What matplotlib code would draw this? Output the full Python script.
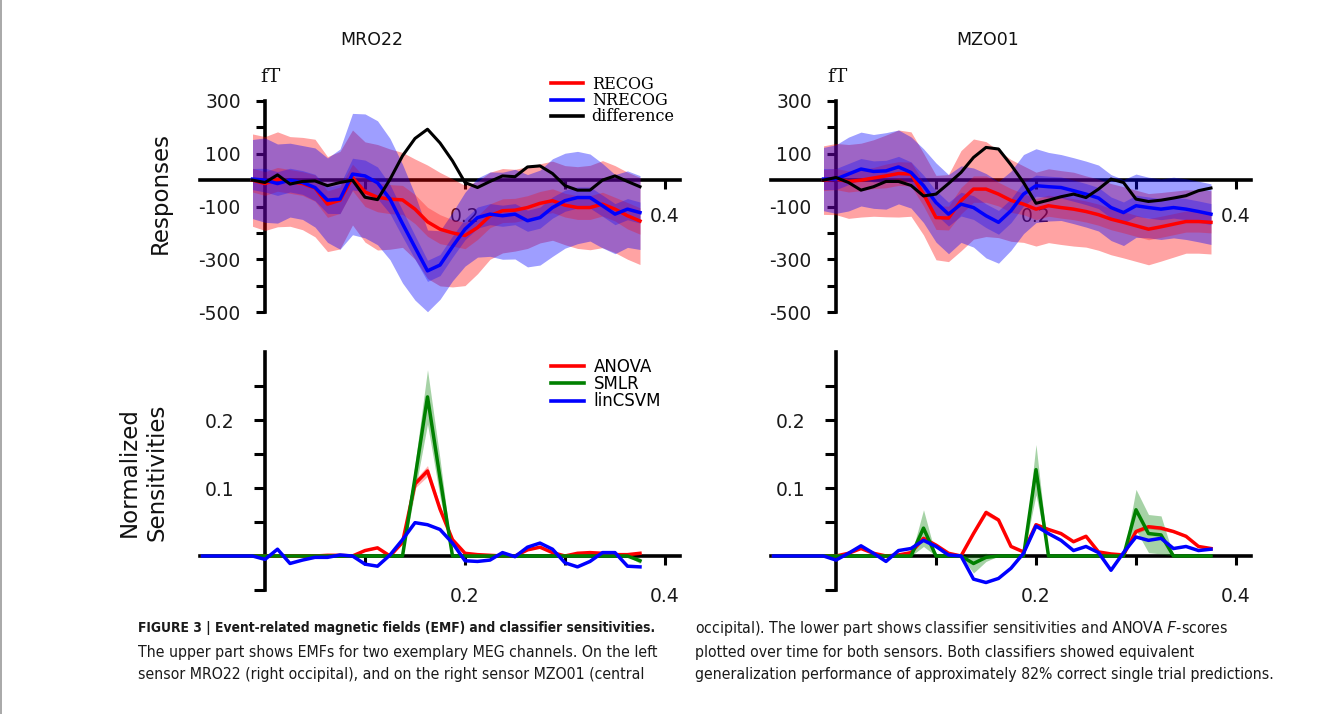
import numpy as np
import matplotlib
matplotlib.use("Agg")
import matplotlib.pyplot as plt
from matplotlib import font_manager
from matplotlib.ticker import FixedLocator, FixedFormatter
from matplotlib.lines import Line2D

# ---------------- data ----------------
t_top = [-0.0125, 0.0, 0.0125, 0.025, 0.0375, 0.05, 0.0625, 0.075, 0.0875, 0.1,
         0.1125, 0.125, 0.1375, 0.15, 0.1625, 0.175, 0.1875, 0.2, 0.2125, 0.225,
         0.2375, 0.25, 0.2625, 0.275, 0.2875, 0.3, 0.3125, 0.325, 0.3375, 0.35,
         0.3625, 0.375]
t_bot = [-0.0625, -0.05, -0.0375, -0.025] + t_top

# MRO22 responses (fT)
mro_recog = [0, -13, 3, -5, -13, -30, -91, -76, 10, -45, -65, -72, -75, -110, -158, -186,
             -200, -210, -180, -135, -116, -114, -104, -88, -78, -95, -104, -104, -91, -110, -135, -155]
mro_recog_sd = [175, 178, 180, 170, 175, 185, 180, 185, 180, 190, 200, 190, 180, 190, 215, 215,
                205, 190, 175, 165, 160, 155, 155, 150, 150, 150, 155, 160, 165, 165, 165, 165]
mro_recog_se = [45, 45, 45, 45, 45, 50, 50, 50, 50, 55, 55, 55, 55, 55, 55, 55,
                50, 50, 45, 45, 45, 45, 45, 45, 45, 45, 45, 45, 45, 45, 50, 50]
mro_nrecog = [4, 0, -13, 0, -9, -28, -76, -72, 23, 16, -10, -72, -165, -255, -344, -322,
              -252, -186, -142, -129, -135, -129, -154, -142, -104, -78, -66, -66, -97, -129, -110, -123]
mro_nrecog_sd = [150, 160, 150, 140, 140, 150, 160, 190, 230, 235, 235, 230, 225, 200, 155, 130,
                 130, 140, 150, 160, 165, 170, 175, 180, 185, 180, 175, 165, 160, 150, 145, 140]
mro_nrecog_se = [40, 45, 45, 45, 45, 50, 50, 55, 60, 60, 60, 55, 50, 45, 40, 40,
                 40, 40, 40, 40, 40, 40, 40, 40, 40, 40, 40, 40, 40, 40, 40, 40]
mro_diff = [0, -9, 20, -15, -5, -3, -21, -9, 0, -65, -74, 3, 92, 158, 193, 141,
            73, -9, -28, -5, 16, 13, 50, 54, 25, -21, -38, -38, 0, 16, -5, -25]

# MZO01 responses (fT)
mzo_recog = [0, 4, -5, 0, 8, 16, 25, 23, -53, -142, -144, -78, -34, -34, -53, -77,
             -91, -110, -97, -104, -110, -119, -131, -148, -160, -173, -186, -177, -167, -157, -157, -160]
mzo_recog_sd = [130, 135, 140, 140, 145, 155, 165, 160, 155, 160, 165, 190, 190, 180, 165, 155,
                145, 140, 140, 140, 140, 135, 135, 135, 135, 135, 135, 130, 125, 120, 120, 120]
mzo_recog_se = [40, 40, 40, 40, 40, 45, 45, 45, 45, 45, 45, 50, 50, 50, 45, 45,
                40, 40, 40, 40, 40, 40, 40, 40, 40, 40, 40, 40, 40, 40, 40, 40]
mzo_nrecog = [4, 4, 23, 42, 33, 35, 50, 29, -21, -85, -129, -91, -104, -135, -160, -116,
              -53, -21, -25, -28, -40, -53, -68, -104, -123, -97, -104, -110, -104, -110, -119, -129]
mzo_nrecog_sd = [120, 130, 140, 140, 140, 145, 140, 135, 140, 150, 150, 145, 150, 160, 155, 150,
                 150, 140, 130, 125, 125, 125, 125, 125, 125, 120, 115, 115, 115, 115, 115, 115]
mzo_nrecog_se = [40, 40, 40, 40, 40, 40, 40, 40, 40, 45, 45, 45, 45, 45, 45, 45,
                 45, 40, 40, 40, 40, 40, 40, 40, 40, 40, 40, 40, 40, 40, 40, 40]
mzo_diff = [0, 10, -9, -38, -25, -5, -5, -20, -60, -53, -13, 29, 86, 124, 118, 58,
            -9, -88, -76, -63, -53, -66, -34, 4, -9, -72, -81, -76, -68, -59, -40, -30]

# MRO22 normalized sensitivities
mro_anova = [0, 0, 0, 0, 0, 0, 0, 0, 0, 0, 0.001, 0.001, 0, 0.008, 0.012, 0, 0.02, 0.106,
             0.125, 0.069, 0.024, 0.004, 0.002, 0.001, 0, 0, 0.009, 0.013, 0.005, 0, 0.004,
             0.005, 0.004, 0.002, 0.002, 0.004]
mro_anova_sd = [0, 0, 0, 0, 0, 0, 0, 0, 0, 0, 0, 0, 0, 0.001, 0.001, 0, 0.002, 0.006,
                0.008, 0.006, 0.002, 0, 0, 0, 0, 0, 0.001, 0.001, 0, 0, 0, 0, 0, 0, 0, 0]
mro_smlr = [0, 0, 0, 0, 0, 0, 0, 0, 0, 0, 0, 0, 0, 0, 0, 0, 0, 0.115, 0.234, 0.115,
            0, 0, 0, 0, 0, 0, 0, 0, 0, 0, 0, 0, 0, 0, 0, -0.007]
mro_smlr_sd = [0, 0, 0, 0, 0, 0, 0, 0, 0, 0, 0, 0, 0, 0, 0, 0, 0, 0.02, 0.04, 0.028,
               0, 0, 0, 0, 0, 0, 0, 0, 0, 0, 0, 0, 0, 0, 0, 0.004]
mro_svm = [0, 0, 0, 0, 0, -0.005, 0.010, -0.011, -0.006, -0.002, -0.002, 0.0015, 0, -0.012,
           -0.015, 0.0015, 0.024, 0.049, 0.046, 0.039, 0.019, -0.007, -0.008, -0.006, 0.005,
           -0.001, 0.013, 0.019, 0.010, -0.010, -0.016, -0.008, 0.005, 0.005, -0.015, -0.016]

# MZO01 normalized sensitivities
mzo_anova = [0, 0, 0, 0, 0, 0, 0.004, 0.011, 0.004, 0, 0.0015, 0.005, 0.026, 0.016, 0.004,
             0, 0.033, 0.064, 0.053, 0.014, 0.006, 0.046, 0.039, 0.033, 0.021, 0.029, 0.006,
             0.003, 0.0015, 0.036, 0.043, 0.041, 0.036, 0.029, 0.014, 0.011]
mzo_anova_sd = [0, 0, 0, 0, 0, 0, 0, 0.001, 0, 0, 0, 0, 0.002, 0.001, 0, 0, 0.002, 0.004,
                0.003, 0.001, 0, 0.003, 0.002, 0.002, 0.001, 0.002, 0, 0, 0, 0.003, 0.003,
                0.003, 0.002, 0.002, 0.001, 0.001]
mzo_smlr = [0, 0, 0, 0, 0, 0, 0, 0, 0, 0, 0, 0, 0.041, 0, 0, 0, -0.011, -0.002, 0, 0, 0,
            0.127, 0, 0, 0, 0, 0, 0, 0, 0.068, 0.033, 0.031, 0, 0, 0, 0]
mzo_smlr_sd = [0, 0, 0, 0, 0, 0, 0, 0, 0, 0, 0, 0, 0.027, 0, 0, 0, 0.014, 0.006, 0, 0, 0,
               0.037, 0, 0, 0, 0, 0, 0, 0, 0.03, 0.028, 0.028, 0, 0, 0, 0]
mzo_svm = [0, 0, 0, 0, 0, -0.006, 0.004, 0.015, 0.004, -0.008, 0.008, 0.011, 0.023, 0.014,
           0.0015, 0, -0.034, -0.039, -0.033, -0.018, 0.004, 0.044, 0.033, 0.023, 0.008,
           0.014, 0.005, -0.021, 0.005, 0.028, 0.023, 0.026, 0.011, 0.014, 0.008, 0.010]

sensor_names = ["MRO22", "MZO01"]
resp_labels = ["RECOG", "NRECOG", "difference"]
sens_labels = ["ANOVA", "SMLR", "linCSVM"]
resp_yticks = [-500, -400, -300, -200, -100, 0, 100, 200, 300]
resp_yticklabels = ["-500", "", "-300", "", "-100", "", "100", "", "300"]
sens_yticks = [-0.05, 0.05, 0.1, 0.15, 0.2, 0.25]
sens_yticklabels = ["", "", "0.1", "", "0.2", ""]
xticks = [0.1, 0.2, 0.3, 0.4]
xticklabels = ["", "0.2", "", "0.4"]

caption_left = [
    ("FIGURE 3 | Event-related magnetic fields (EMF) and classifier sensitivities.", "bold"),
    ("The upper part shows EMFs for two exemplary MEG channels. On the left", "normal"),
    ("sensor MRO22 (right occipital), and on the right sensor MZO01 (central", "normal"),
]
caption_right = [
    ("occipital). The lower part shows classifier sensitivities and ANOVA $\\mathit{F}$-scores", "normal"),
    ("plotted over time for both sensors. Both classifiers showed equivalent", "normal"),
    ("generalization performance of approximately 82% correct single trial predictions.", "normal"),
]

# ---------------- figure ----------------
W, H = 1344, 714
fig = plt.figure(figsize=(W / 100, H / 100), dpi=100)
fig.patch.set_facecolor("white")

def ax_px(x0, x1, y_top, y_bot):
    return fig.add_axes([x0 / W, 1 - y_bot / H, (x1 - x0) / W, (y_bot - y_top) / H])

ax_tl = ax_px(200, 680, 101, 312)
ax_tr = ax_px(771, 1251, 101, 312)
ax_bl = ax_px(200, 680, 352, 590)
ax_br = ax_px(771, 1251, 352, 590)

TICK_COLOR = "#1a1a1a"

def style(ax, ylim, yticks, yticklabels, xpad, ypad, ylen, bounds):
    ax.set_xlim(-0.065, 0.415)
    ax.set_ylim(*ylim)
    ax.patch.set_alpha(0)
    for s in ("top", "right"):
        ax.spines[s].set_visible(False)
    ax.spines["bottom"].set_position(("data", 0))
    ax.spines["left"].set_position(("data", 0))
    ax.spines["left"].set_bounds(*bounds)
    for s in ("bottom", "left"):
        ax.spines[s].set_linewidth(2.6)
        ax.spines[s].set_color("black")
    ax.xaxis.set_major_locator(FixedLocator(xticks))
    ax.xaxis.set_major_formatter(FixedFormatter(xticklabels))
    ax.yaxis.set_major_locator(FixedLocator(yticks))
    ax.yaxis.set_major_formatter(FixedFormatter(yticklabels))
    ax.tick_params(axis="x", direction="out", length=6.5, width=2.2, pad=xpad,
                   labelsize=13.5, labelcolor=TICK_COLOR)
    ax.tick_params(axis="y", direction="out", length=ylen, width=2.2, pad=ypad,
                   labelsize=13.5, labelcolor=TICK_COLOR)

def draw_resp(ax, rec, rec_sd, rec_se, nrec, nrec_sd, nrec_se, diff):
    t = np.asarray(t_top)
    rec, rec_sd, rec_se = map(np.asarray, (rec, rec_sd, rec_se))
    nrec, nrec_sd, nrec_se = map(np.asarray, (nrec, nrec_sd, nrec_se))
    ax.fill_between(t, rec - rec_sd, rec + rec_sd, color="red", alpha=0.36, lw=0, zorder=3)
    ax.fill_between(t, nrec - nrec_sd, nrec + nrec_sd, color="blue", alpha=0.38, lw=0, zorder=3)
    ax.fill_between(t, rec - rec_se, rec + rec_se, color="red", alpha=0.28, lw=0, zorder=3)
    ax.fill_between(t, nrec - nrec_se, nrec + nrec_se, color="blue", alpha=0.3, lw=0, zorder=3)
    ax.plot(t, rec, color="red", lw=2.5, zorder=5)
    ax.plot(t, nrec, color="blue", lw=2.5, zorder=5)
    ax.plot(t, diff, color="black", lw=2.2, zorder=6)

def draw_sens(ax, anova, anova_sd, smlr, smlr_sd, svm):
    t = np.asarray(t_bot)
    anova, anova_sd, smlr, smlr_sd = map(np.asarray, (anova, anova_sd, smlr, smlr_sd))
    ax.fill_between(t, anova - anova_sd, anova + anova_sd, color="red", alpha=0.3, lw=0, zorder=3)
    ax.fill_between(t, smlr - smlr_sd, smlr + smlr_sd, color="green", alpha=0.35, lw=0, zorder=3)
    ax.plot(t, anova, color="red", lw=2.5, zorder=5)
    ax.plot(t, smlr, color="green", lw=2.5, zorder=5)
    ax.plot(t, svm, color="blue", lw=2.5, zorder=6)

for ax in (ax_tl, ax_tr):
    style(ax, (-500, 300), resp_yticks, resp_yticklabels, xpad=13, ypad=11, ylen=6.5,
          bounds=(-500, 300))
for ax in (ax_bl, ax_br):
    style(ax, (-0.05, 0.3), sens_yticks, sens_yticklabels, xpad=16, ypad=14, ylen=8,
          bounds=(-0.05, 0.3))

draw_resp(ax_tl, mro_recog, mro_recog_sd, mro_recog_se, mro_nrecog, mro_nrecog_sd,
          mro_nrecog_se, mro_diff)
draw_resp(ax_tr, mzo_recog, mzo_recog_sd, mzo_recog_se, mzo_nrecog, mzo_nrecog_sd,
          mzo_nrecog_se, mzo_diff)
draw_sens(ax_bl, mro_anova, mro_anova_sd, mro_smlr, mro_smlr_sd, mro_svm)
draw_sens(ax_br, mzo_anova, mzo_anova_sd, mzo_smlr, mzo_smlr_sd, mzo_svm)

# legends
resp_handles = [Line2D([], [], color=c, lw=2.6) for c in ("red", "blue", "black")]
ax_tl.legend(resp_handles, resp_labels, loc="upper left",
             bbox_to_anchor=(551 / W, 1 - 76 / H), bbox_transform=fig.transFigure,
             frameon=False, borderpad=0, borderaxespad=0, handlelength=2.0,
             handletextpad=0.55, labelspacing=-0.05,
             prop={"family": "DejaVu Serif", "size": 11.5})
sens_handles = [Line2D([], [], color=c, lw=2.6) for c in ("red", "green", "blue")]
ax_bl.legend(sens_handles, sens_labels, loc="upper left",
             bbox_to_anchor=(551 / W, 1 - 358 / H), bbox_transform=fig.transFigure,
             frameon=False, borderpad=0, borderaxespad=0, handlelength=2.0,
             handletextpad=0.55, labelspacing=-0.05,
             prop={"family": "DejaVu Sans", "size": 12})

# titles and labels
for x, name in zip((372, 988), sensor_names):
    fig.text(x / W, 1 - 40 / H, name, ha="center", va="center", fontsize=12.5, color="#111")
for x in (270, 837):
    fig.text(x / W, 1 - 77 / H, "fT", ha="center", va="center", fontsize=14,
             family="DejaVu Serif", color="#111")
fig.text(160 / W, 1 - 193 / H, "Responses", rotation=90, ha="center", va="center",
         fontsize=16.5, color="#111")
fig.text(143 / W, 1 - 472 / H, "Normalized\nSensitivities", rotation=90, ha="center",
         va="center", fontsize=16.5, linespacing=1.25, multialignment="center", color="#111")

# frame line
fig.add_artist(Line2D([1.0 / W, 1.0 / W], [0, 1], transform=fig.transFigure,
                      color="#9a9a9a", lw=1.2))

# ---------------- caption ----------------
names = {f.name for f in font_manager.fontManager.ttflist}
if "Liberation Sans Narrow" in names:
    cap_family = "Liberation Sans Narrow"
    cap_stretch = "normal"
else:
    cap_family = "DejaVu Sans"
    cap_stretch = "condensed"
plt.rcParams["mathtext.fontset"] = "custom"
plt.rcParams["mathtext.it"] = cap_family + ":italic"
plt.rcParams["mathtext.rm"] = cap_family

renderer = fig.canvas.get_renderer()

def fitted_size(text, weight, target_px, base=11.0):
    tmp = fig.text(0, 0, text, fontsize=base, family=cap_family, fontstretch=cap_stretch,
                   weight=weight)
    w = tmp.get_window_extent(renderer=renderer).width
    tmp.remove()
    return base * target_px / w

size_bold = fitted_size(caption_left[0][0], "bold", 519)
size_norm = min(fitted_size(caption_left[1][0], "normal", 520),
                fitted_size(caption_right[2][0], "normal", 643))

cap_y = [628, 652, 675]
for col_x, lines in ((138, caption_left), (695, caption_right)):
    for y, (txt, wt) in zip(cap_y, lines):
        fig.text(col_x / W, 1 - y / H, txt, ha="left", va="center", family=cap_family,
                 fontstretch=cap_stretch, weight=wt,
                 fontsize=size_bold if wt == "bold" else size_norm, color="#1a1a1a")

fig.savefig("out.png", dpi=100, facecolor="white")
